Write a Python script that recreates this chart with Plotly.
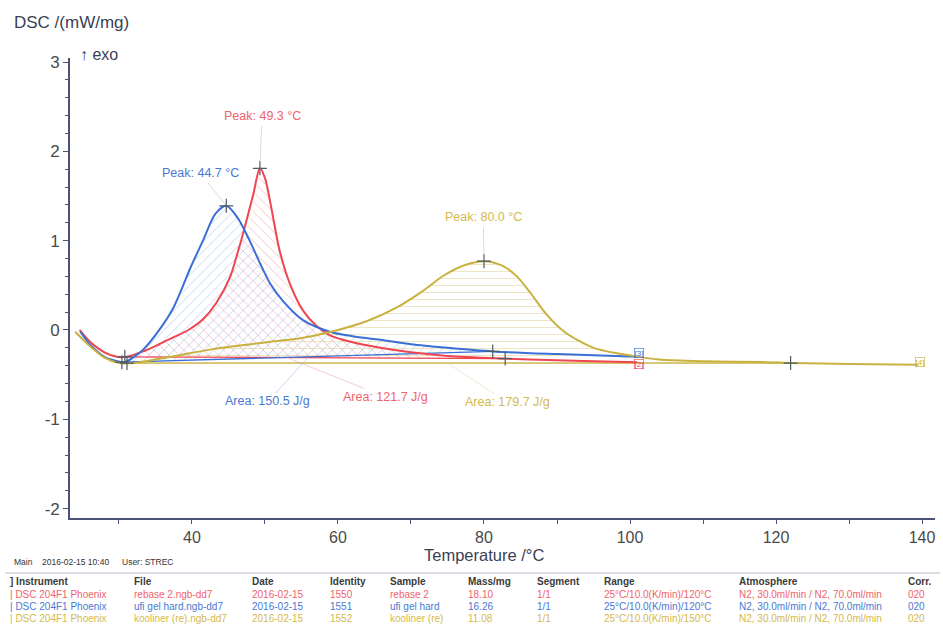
import numpy as np
import plotly.graph_objects as go

# ---------------- data ----------------
red_T = [24.6, 26, 28, 29.7, 31, 33.3, 35.5, 37.5, 39.5, 41.5, 43.3, 45.2, 46.2, 47.0, 48.4, 49.3, 50.0, 50.7, 52.0, 53.4, 55.2, 57.0, 58.9, 61.6, 65.8, 70, 75, 82.9, 90, 95, 101.0]
red_v = [0.00, -0.13, -0.25, -0.30, -0.30, -0.24, -0.16, -0.08, 0.00, 0.12, 0.30, 0.59, 0.85, 1.08, 1.52, 1.81, 1.70, 1.44, 0.89, 0.52, 0.22, 0.05, -0.06, -0.13, -0.20, -0.25, -0.29, -0.32, -0.34, -0.35, -0.36]

blue_T = [24.7, 26, 28, 30.4, 31.1, 33.3, 35.6, 37.4, 38.8, 39.7, 41.5, 43.2, 44.7, 46.3, 47.9, 49.3, 50.7, 52.5, 55.2, 58.9, 62, 65.8, 70, 75, 81.2, 90, 101.0]
blue_v = [-0.02, -0.16, -0.30, -0.36, -0.35, -0.22, 0.01, 0.24, 0.50, 0.68, 1.00, 1.30, 1.39, 1.25, 1.00, 0.75, 0.52, 0.32, 0.11, -0.02, -0.07, -0.11, -0.16, -0.20, -0.24, -0.27, -0.30]

yel_T = [24.0, 26, 28, 30, 32, 35, 38.4, 42.5, 46, 50, 55, 60, 64, 68, 71.5, 74.5, 77.5, 80.0, 82.5, 84.5, 86.5, 88.5, 91, 95, 100.4, 104, 110, 118.8, 122, 130, 139.5]
yel_v = [-0.02, -0.18, -0.31, -0.37, -0.37, -0.33, -0.28, -0.22, -0.18, -0.14, -0.09, 0.00, 0.10, 0.25, 0.43, 0.61, 0.73, 0.77, 0.72, 0.60, 0.40, 0.18, -0.02, -0.20, -0.29, -0.33, -0.35, -0.36, -0.37, -0.38, -0.39]

# integration limits (°C)
red_lim = [30.8, 82.9]
blue_lim = [30.4, 81.2]
yel_lim = [31.1, 122.0]

peak_texts = ["Peak: 49.3 °C", "Peak: 44.7 °C", "Peak: 80.0 °C"]
area_texts = ["Area: 121.7 J/g", "Area: 150.5 J/g", "Area: 179.7 J/g"]
end_tags = ["[2]", "[3]", "[4]"]

y_ticks = [-2, -1, 0, 1, 2, 3]
y_ticktext = ["-2", "-1", "0", "1", "2", "3"]

table_header = ["] Instrument", "File", "Date", "Identity", "Sample", "Mass/mg", "Segment", "Range", "Atmosphere", "Corr."]
table_rows = [
    ["| DSC 204F1 Phoenix", "rebase 2.ngb-dd7", "2016-02-15", "1550", "rebase 2", "18.10", "1/1", "25°C/10.0(K/min)/120°C", "N2, 30.0ml/min / N2, 70.0ml/min", "020"],
    ["| DSC 204F1 Phoenix", "ufi gel hard.ngb-dd7", "2016-02-15", "1551", "ufi gel hard", "16.26", "1/1", "25°C/10.0(K/min)/120°C", "N2, 30.0ml/min / N2, 70.0ml/min", "020"],
    ["| DSC 204F1 Phoenix", "kooliner (re).ngb-dd7", "2016-02-15", "1552", "kooliner (re)", "11.08", "1/1", "25°C/10.0(K/min)/150°C", "N2, 30.0ml/min / N2, 70.0ml/min", "020"],
]

# ---------------- styling ----------------
FONT = "Liberation Sans, Arial, sans-serif"
RED, BLUE, YEL = "#ee4550", "#3a6fd6", "#c9b13f"
RED_T, BLUE_T, YEL_T = "#f0636b", "#4a78d2", "#d4b94c"
AXC = "#4b5275"
MARK = "#4e5b62"

# plot-area pixel geometry (for paper-coordinate placement of the header/footer text)
L, R, T, B = 70, 935, 58, 518
def pxx(p): return (p - L) / (R - L)
def pxy(p): return (B - p) / (B - T)

fig = go.Figure()

series = [
    (red_T, red_v, red_lim, RED, RED_T, "\\", "rgba(240,120,130,0.5)"),
    (blue_T, blue_v, blue_lim, BLUE, BLUE_T, "/", "rgba(110,160,230,0.5)"),
    (yel_T, yel_v, yel_lim, YEL, YEL_T, "-", "rgba(215,195,110,0.5)"),
]

# hatched peak areas (curve between limits closed by the straight baseline)
for Tx, V, lim, col, tcol, shape, pcol in series:
    Tx = np.array(Tx); V = np.array(V)
    b0 = float(np.interp(lim[0], Tx, V)); b1 = float(np.interp(lim[1], Tx, V))
    m = (Tx > lim[0]) & (Tx < lim[1])
    xs = [lim[0]] + list(Tx[m]) + [lim[1], lim[0]]
    ys = [b0] + list(V[m]) + [b1, b0]
    fig.add_trace(go.Scatter(x=xs, y=ys, mode="lines", line=dict(width=0, shape="spline", smoothing=0.6),
                             fill="toself", fillcolor="rgba(0,0,0,0)",
                             fillpattern=dict(shape=shape, fgcolor=pcol, bgcolor="rgba(0,0,0,0)",
                                              size=7, solidity=0.12, fillmode="replace"),
                             hoverinfo="skip", showlegend=False))

# baselines
for Tx, V, lim, col, tcol, shape, pcol in series:
    b0 = float(np.interp(lim[0], Tx, V)); b1 = float(np.interp(lim[1], Tx, V))
    fig.add_trace(go.Scatter(x=lim, y=[b0, b1], mode="lines", line=dict(color=col, width=1.3),
                             hoverinfo="skip", showlegend=False))

# curves
for Tx, V, lim, col, tcol, shape, pcol in series:
    fig.add_trace(go.Scatter(x=Tx, y=V, mode="lines", line=dict(color=col, width=2, shape="spline", smoothing=0.8),
                             showlegend=False))

# markers: peaks and integration limits
mx, my = [], []
peaks = []
for Tx, V, lim, col, tcol, shape, pcol in series:
    i = int(np.argmax(V)); peaks.append((Tx[i], V[i]))
    mx += [Tx[i], lim[0], lim[1]]
    my += [V[i], float(np.interp(lim[0], Tx, V)), float(np.interp(lim[1], Tx, V))]
fig.add_trace(go.Scatter(x=mx, y=my, mode="markers",
                         marker=dict(symbol="cross-thin", size=10, line=dict(width=1.2, color=MARK)),
                         hoverinfo="skip", showlegend=False))

# peak labels (text position in data units)
peak_label_pos = [(49.6, 2.40), (41.1, 1.76), (79.9, 1.265)]
for (pt, pv), txt, (lx, ly), (_, _, _, col, tcol, _, _) in zip(peaks, peak_texts, peak_label_pos, series):
    fig.add_annotation(x=pt, y=pv, ax=lx, ay=ly, axref="x", ayref="y", text=txt,
                       showarrow=True, arrowhead=0, arrowwidth=0.6, arrowcolor="rgba(150,160,170,0.6)",
                       font=dict(family=FONT, size=12.5, color=tcol), standoff=0, startstandoff=2)

# area labels with leader lines to the baseline
area_anchor_T = [53.0, 56.0, 75.0]
area_label_pos = [(66.5, -0.75), (50.4, -0.80), (83.2, -0.81)]
lead_cols = ["rgba(235,130,170,0.6)", "rgba(120,170,230,0.6)", "rgba(215,200,140,0.6)"]
for (Tx, V, lim, col, tcol, _, _), txt, at, (lx, ly), lc in zip(series, area_texts, area_anchor_T, area_label_pos, lead_cols):
    b0 = float(np.interp(lim[0], Tx, V)); b1 = float(np.interp(lim[1], Tx, V))
    by = b0 + (b1 - b0) * (at - lim[0]) / (lim[1] - lim[0])
    fig.add_annotation(x=at, y=by, ax=lx, ay=ly, axref="x", ayref="y", text=txt,
                       showarrow=True, arrowhead=0, arrowwidth=0.7, arrowcolor=lc,
                       font=dict(family=FONT, size=12.5, color=tcol), standoff=0)

# end tags
tag_shift = [-2, 4, 3]
for (Tx, V, lim, col, tcol, _, _), tag, ys in zip(series, end_tags, tag_shift):
    fig.add_annotation(x=Tx[-1], y=V[-1], text=tag, showarrow=False, xanchor="left", xshift=-3, yshift=ys,
                       font=dict(family=FONT, size=8, color=col), bordercolor=col, borderwidth=0.6, borderpad=0)

# axis titles and header texts (paper coords)
fig.add_annotation(x=pxx(12), y=pxy(22), xref="paper", yref="paper", text="DSC /(mW/mg)", showarrow=False,
                   xanchor="left", yanchor="middle", font=dict(family=FONT, size=17, color="#3a3f55"))
fig.add_annotation(x=pxx(78), y=pxy(55), xref="paper", yref="paper", text="↑ exo", showarrow=False,
                   xanchor="left", yanchor="middle", font=dict(family=FONT, size=16, color="#3a3f55"))
fig.add_annotation(x=pxx(484), y=pxy(555), xref="paper", yref="paper", text="Temperature /°C", showarrow=False,
                   xanchor="center", yanchor="middle", font=dict(family=FONT, size=16.5, color="#3a3f55"))

for txt, x0 in [("Main", 12), ("2016-02-15 10:40", 40), ("User: STREC", 120)]:
    fig.add_annotation(x=pxx(x0), y=pxy(562), xref="paper", yref="paper", text=txt, showarrow=False,
                       xanchor="left", yanchor="middle", font=dict(family=FONT, size=8.5, color="#333"))

col_x = [8, 132, 250, 328, 388, 466, 535, 602, 737, 906]
row_y = [594, 606, 618]
row_cols = [RED_T, BLUE_T, YEL_T]
for h, x0 in zip(table_header, col_x):
    fig.add_annotation(x=pxx(x0), y=pxy(581), xref="paper", yref="paper", text="<b>" + h + "</b>",
                       showarrow=False, xanchor="left", yanchor="middle",
                       font=dict(family=FONT, size=10, color="#3a3a3a"))
for row, yy, c in zip(table_rows, row_y, row_cols):
    for v, x0 in zip(row, col_x):
        fig.add_annotation(x=pxx(x0), y=pxy(yy), xref="paper", yref="paper", text=v,
                           showarrow=False, xanchor="left", yanchor="middle",
                           font=dict(family=FONT, size=10, color=c))

fig.add_shape(type="line", xref="paper", yref="paper", x0=pxx(5), x1=pxx(940), y0=pxy(573), y1=pxy(573),
              line=dict(color="#b8bccb", width=1))

fig.update_layout(
    width=943, height=630,
    margin=dict(l=L, r=943 - R, t=T, b=630 - B),
    paper_bgcolor="white", plot_bgcolor="white",
    showlegend=False,
    font=dict(family=FONT, color="#444"),
    xaxis=dict(range=[23.29, 141.78], showgrid=False, zeroline=False, showline=True, linecolor=AXC, linewidth=1.6,
               ticks="outside", ticklen=4, tickwidth=1, tickcolor=AXC, tick0=40, dtick=20,
               tickfont=dict(family=FONT, size=16, color="#4a4a4a"),
               minor=dict(ticks="outside", ticklen=4, tickcolor=AXC, dtick=10, tick0=40)),
    yaxis=dict(range=[-2.105, 3.045], showgrid=False, zeroline=False, showline=True, linecolor=AXC, linewidth=1.6,
               ticks="outside", ticklen=5, tickwidth=1, tickcolor=AXC,
               tickvals=y_ticks, ticktext=y_ticktext,
               tickfont=dict(family=FONT, size=17, color="#4a4a4a"),
               minor=dict(ticks="outside", ticklen=3, tickcolor=AXC, dtick=0.2, tick0=0)),
)

fig.write_html("out.html", config={"displayModeBar": False},
               post_script="document.body.style.margin='0px';document.body.style.overflow='hidden';")
